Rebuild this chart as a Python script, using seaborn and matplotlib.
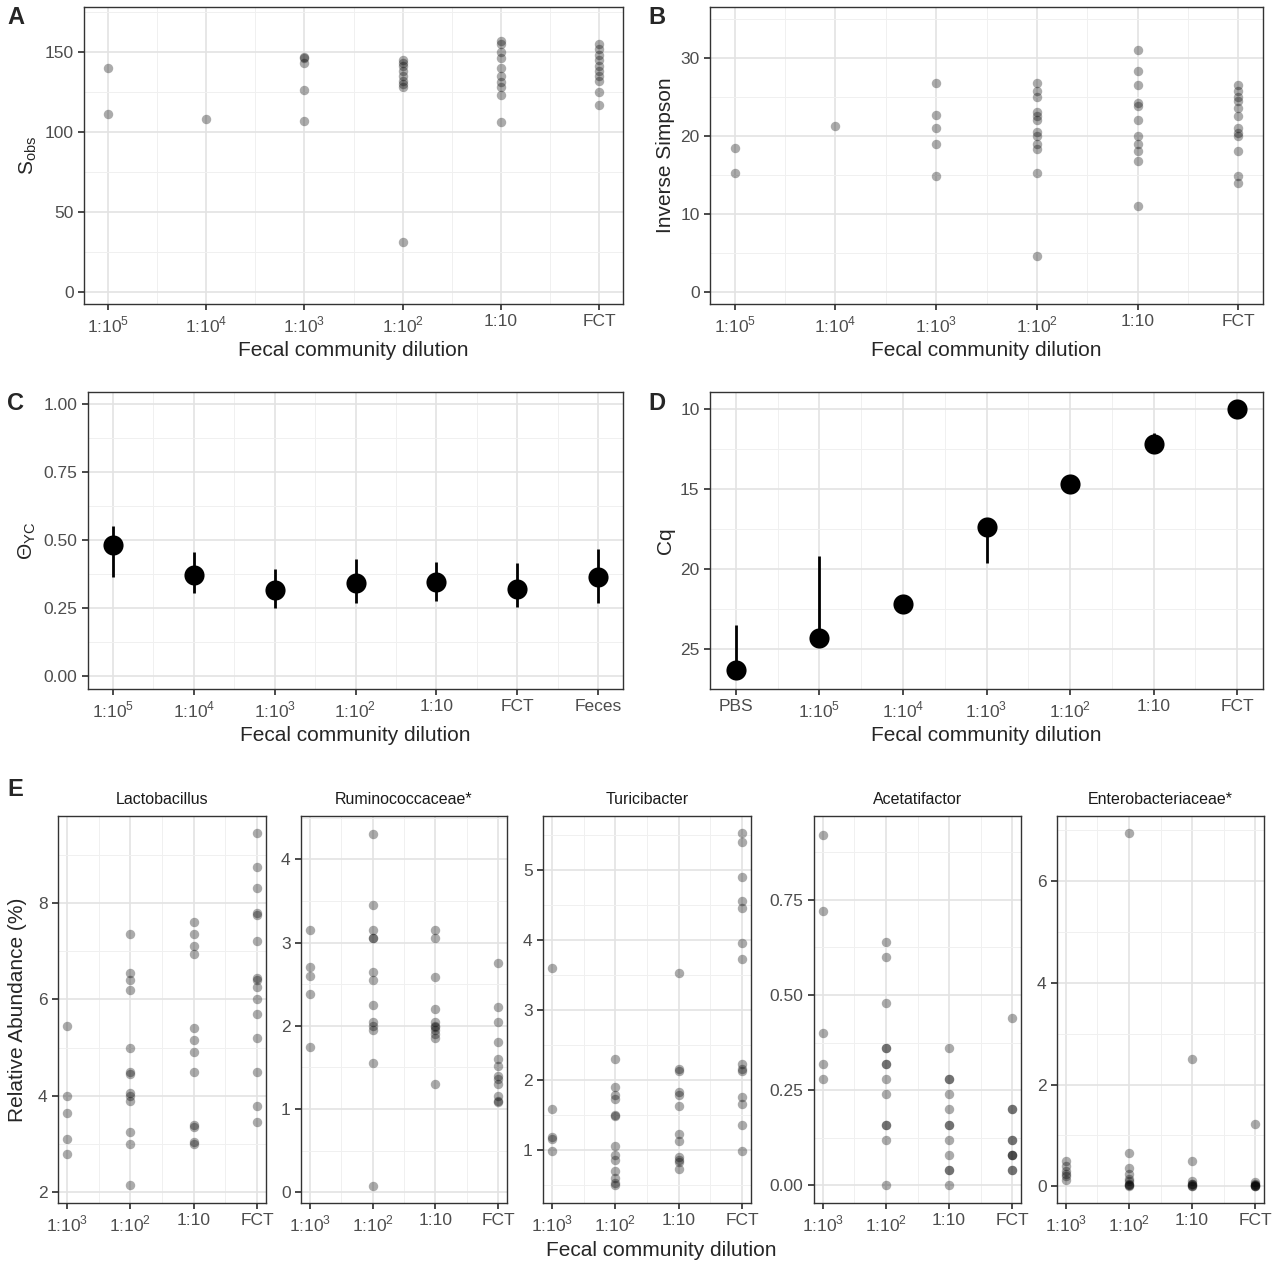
import matplotlib
matplotlib.use("Agg")
import matplotlib.pyplot as plt
import seaborn as sns
import pandas as pd
import numpy as np
from matplotlib.ticker import AutoMinorLocator, FixedLocator

sns.set_theme(style="white")
plt.rcParams['font.family'] = ['Liberation Sans', 'DejaVu Sans']
plt.rcParams['mathtext.fontset'] = 'custom'
plt.rcParams['mathtext.rm'] = 'Liberation Sans'

L5, L4, L3, L2 = '1:10$^5$', '1:10$^4$', '1:10$^3$', '1:10$^2$'
dil6 = [L5, L4, L3, L2, '1:10', 'FCT']
dil7 = [L5, L4, L3, L2, '1:10', 'FCT', 'Feces']
dilD = ['PBS', L5, L4, L3, L2, '1:10', 'FCT']
dil4 = [L3, L2, '1:10', 'FCT']

sobs = {L5: [140, 111], L4: [108], L3: [147, 146, 143, 126, 107],
        L2: [145, 143, 141, 138, 135, 132, 130, 128, 31],
        '1:10': [157, 155, 150, 146, 140, 135, 131, 128, 123, 106],
        'FCT': [155, 152, 148, 145, 141, 138, 135, 132, 125, 117]}
invs = {L5: [18.5, 15.2], L4: [21.2], L3: [26.8, 22.7, 21, 19, 14.9],
        L2: [26.8, 25.8, 25, 23, 22.5, 22, 20.5, 20, 19, 18.3, 15.3, 4.6],
        '1:10': [31, 28.3, 26.5, 24.2, 23.8, 22, 20, 19, 18, 16.8, 11],
        'FCT': [26.5, 25.8, 25, 24.5, 23.5, 22.5, 21, 20.3, 20, 18, 14.8, 14]}
theta_mean = [0.48, 0.37, 0.315, 0.34, 0.345, 0.32, 0.365]
theta_lo = [0.365, 0.305, 0.25, 0.27, 0.275, 0.255, 0.27]
theta_hi = [0.55, 0.455, 0.395, 0.43, 0.42, 0.415, 0.465]
cq_mean = [26.3, 24.3, 22.2, 17.4, 14.7, 12.2, 10.0]
cq_lo = [23.5, 19.2, 22.2, 17.4, 14.2, 11.5, 10.0]
cq_hi = [26.3, 24.3, 22.2, 19.6, 14.7, 12.5, 10.0]

taxa = ['Lactobacillus', 'Ruminococcaceae*', 'Turicibacter', 'Acetatifactor', 'Enterobacteriaceae*']
rel = {
 'Lactobacillus': {L3: [5.45, 4.0, 3.65, 3.1, 2.8],
   L2: [7.35, 6.55, 6.4, 6.2, 5.0, 4.5, 4.45, 4.05, 4.0, 3.9, 3.25, 3.0, 2.15],
   '1:10': [7.6, 7.35, 7.1, 6.95, 5.4, 5.15, 4.9, 4.5, 3.4, 3.35, 3.05, 3.0],
   'FCT': [9.45, 8.75, 8.3, 7.8, 7.75, 7.2, 6.45, 6.4, 6.25, 6.0, 5.7, 5.2, 4.5, 3.8, 3.45]},
 'Ruminococcaceae*': {L3: [3.15, 2.7, 2.6, 2.38, 1.75],
   L2: [4.3, 3.45, 3.15, 3.05, 3.05, 2.65, 2.55, 2.25, 2.05, 2.0, 1.95, 1.55, 0.08],
   '1:10': [3.15, 3.05, 2.58, 2.2, 2.05, 2.0, 1.98, 1.95, 1.9, 1.85, 1.3],
   'FCT': [2.75, 2.22, 2.05, 1.8, 1.6, 1.52, 1.4, 1.36, 1.3, 1.15, 1.1, 1.08]},
 'Turicibacter': {L3: [3.6, 1.58, 1.18, 1.15, 0.98],
   L2: [2.3, 1.9, 1.78, 1.72, 1.5, 1.48, 1.05, 0.92, 0.85, 0.7, 0.6, 0.52, 0.5],
   '1:10': [3.52, 2.15, 2.12, 1.82, 1.78, 1.62, 1.22, 1.12, 0.9, 0.85, 0.82, 0.72],
   'FCT': [5.52, 5.4, 4.9, 4.55, 4.45, 3.95, 3.72, 2.22, 2.15, 2.12, 1.75, 1.65, 1.35, 0.98]},
 'Acetatifactor': {L3: [0.92, 0.72, 0.4, 0.32, 0.28],
   L2: [0.64, 0.6, 0.48, 0.36, 0.36, 0.32, 0.32, 0.28, 0.24, 0.16, 0.16, 0.12, 0.0],
   '1:10': [0.36, 0.28, 0.28, 0.24, 0.2, 0.16, 0.16, 0.12, 0.08, 0.04, 0.04, 0.0],
   'FCT': [0.44, 0.2, 0.2, 0.12, 0.12, 0.08, 0.08, 0.08, 0.04, 0.04]},
 'Enterobacteriaceae*': {L3: [0.5, 0.4, 0.3, 0.25, 0.2, 0.12],
   L2: [6.95, 0.65, 0.35, 0.25, 0.15, 0.1, 0.05, 0.03, 0.02, 0.01],
   '1:10': [2.5, 0.5, 0.1, 0.05, 0.04, 0.02, 0.01, 0.01],
   'FCT': [1.22, 0.08, 0.05, 0.03, 0.02, 0.01, 0.01, 0.0]},
}
E_ticks = {'Lactobacillus': [2, 4, 6, 8], 'Ruminococcaceae*': [0, 1, 2, 3, 4],
           'Turicibacter': [1, 2, 3, 4, 5], 'Acetatifactor': [0, 0.25, 0.5, 0.75],
           'Enterobacteriaceae*': [0, 2, 4, 6]}
E_lims = {'Lactobacillus': (1.78, 9.8), 'Ruminococcaceae*': (-0.13, 4.52),
          'Turicibacter': (0.24, 5.77), 'Acetatifactor': (-0.046, 0.97),
          'Enterobacteriaceae*': (-0.33, 7.28)}
E_fmt = {'Acetatifactor': '{:.2f}'}

W, H = 1280, 1271
fig = plt.figure(figsize=(12.8, 12.71), dpi=100)

def ax_px(x0, y0, x1, y1):
    return fig.add_axes([x0 / W, 1 - y1 / H, (x1 - x0) / W, (y1 - y0) / H])

def style(ax, ncat, fs=12.5):
    ax.set_facecolor('white')
    for s in ax.spines.values():
        s.set_color('#333333'); s.set_linewidth(1.0)
    ax.yaxis.set_minor_locator(AutoMinorLocator(2))
    ax.xaxis.set_minor_locator(FixedLocator(np.arange(ncat - 1) + 0.5))
    ax.grid(True, which='major', color='#E3E3E3', lw=1.2)
    ax.grid(True, which='minor', color='#F0F0F0', lw=0.7)
    ax.set_axisbelow(True)
    ax.tick_params(axis='both', which='major', length=4, color='#333333',
                   labelsize=fs, labelcolor='#4D4D4D', left=True, bottom=True)
    ax.tick_params(which='minor', length=0)

def long(d, order):
    rows = [(k, v) for k in order for v in d.get(k, [])]
    return pd.DataFrame(rows, columns=['dil', 'val'])

def strip(ax, d, order):
    df = long(d, order)
    sns.stripplot(data=df, x='dil', y='val', order=order, jitter=False,
                  color='black', alpha=0.33, size=6.8, linewidth=0, ax=ax)

XL = 'Fecal community dilution'
LFS = 15

# A
axA = ax_px(84, 7, 623, 304)
strip(axA, sobs, dil6); style(axA, 6)
axA.set_ylim(-7.5, 178); axA.set_yticks([0, 50, 100, 150])
axA.set_xlim(-0.245, 5.245)
axA.set_xlabel(XL, fontsize=LFS); axA.set_ylabel('S$_{\\mathrm{obs}}$', fontsize=LFS)
# B
axB = ax_px(710, 7, 1263, 304)
strip(axB, invs, dil6); style(axB, 6)
axB.set_ylim(-1.54, 36.5); axB.set_yticks([0, 10, 20, 30])
axB.set_xlim(-0.245, 5.245)
axB.set_xlabel(XL, fontsize=LFS); axB.set_ylabel('Inverse Simpson', fontsize=LFS)
# C
axC = ax_px(88, 392, 623, 689)
dfC = pd.DataFrame({'dil': dil7, 'm': theta_mean, 'lo': theta_lo, 'hi': theta_hi})
axC.vlines(dfC['dil'], dfC['lo'], dfC['hi'], color='black', lw=2)
sns.scatterplot(data=dfC, x='dil', y='m', color='black', s=210, linewidth=0, ax=axC)
style(axC, 7)
axC.set_ylim(-0.048, 1.044); axC.set_yticks([0, 0.25, 0.5, 0.75, 1.0])
axC.set_yticklabels(['0.00', '0.25', '0.50', '0.75', '1.00'])
axC.set_xlim(-0.31, 6.31)
axC.set_xlabel(XL, fontsize=LFS); axC.set_ylabel('Θ$_{\\mathrm{YC}}$', fontsize=LFS)
# D
axD = ax_px(710, 392, 1263, 689)
dfD = pd.DataFrame({'dil': dilD, 'm': cq_mean, 'lo': cq_lo, 'hi': cq_hi})
axD.vlines(dfD['dil'], dfD['lo'], dfD['hi'], color='black', lw=2)
sns.scatterplot(data=dfD, x='dil', y='m', color='black', s=210, linewidth=0, ax=axD)
style(axD, 7)
axD.set_ylim(27.5, 8.94); axD.set_yticks([10, 15, 20, 25])
axD.set_xlim(-0.31, 6.31)
axD.set_xlabel(XL, fontsize=LFS); axD.set_ylabel('Cq', fontsize=LFS)

# E
Epos = [(58, 266), (301, 507), (543, 751), (814, 1021), (1057, 1264)]
for t, (x0, x1) in zip(taxa, Epos):
    ax = ax_px(x0, 816, x1, 1203)
    strip(ax, rel[t], dil4); style(ax, 4, fs=12.5)
    ax.set_xlim(-0.14, 3.14)
    ax.set_ylim(*E_lims[t]); ax.set_yticks(E_ticks[t])
    if t in E_fmt:
        ax.set_yticklabels([E_fmt[t].format(v) for v in E_ticks[t]])
    ax.set_xlabel(''); ax.set_ylabel('')
    ax.set_title(t, fontsize=11.5, color='#1A1A1A', pad=9)
fig.text(661 / W, 1 - 1250 / H, XL, ha='center', va='center', fontsize=LFS)
fig.text(18 / W, 1 - 1010 / H, 'Relative Abundance (%)', ha='center', va='center',
         rotation=90, fontsize=LFS)

for lab, x, y in [('A', 7, 18), ('B', 648, 18), ('C', 7, 404), ('D', 648, 404), ('E', 7, 790)]:
    fig.text(x / W, 1 - y / H, lab, fontsize=17, fontweight='bold', va='center')

fig.savefig('out.png', dpi=100, facecolor='white')
